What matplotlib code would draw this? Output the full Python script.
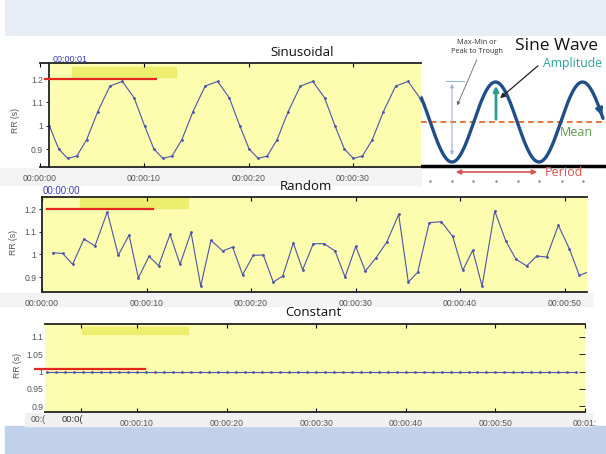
import numpy as np
import matplotlib.pyplot as plt
from matplotlib.patches import Rectangle

plt.rcParams['font.family'] = ['Liberation Sans', 'DejaVu Sans']

# --- data ---
# sinusoidal RR tachogram (time in s, RR in s)
sin_t = [0.94, 1.84, 2.70, 3.57, 4.51, 5.57, 6.74, 7.93, 9.05,
         10.05, 10.95, 11.81, 12.68, 13.62, 14.68, 15.85, 17.04, 18.16,
         19.16, 20.06, 20.92, 21.79, 22.73, 23.79, 24.96, 26.15, 27.27,
         28.27, 29.17, 30.03, 30.90, 31.84, 32.90, 34.07, 35.26, 36.38, 37.38]
sin_rr = [1.00, 0.90, 0.86, 0.87, 0.94, 1.06, 1.17, 1.19, 1.12,
          1.00, 0.90, 0.86, 0.87, 0.94, 1.06, 1.17, 1.19, 1.12,
          1.00, 0.90, 0.86, 0.87, 0.94, 1.06, 1.17, 1.19, 1.12,
          1.00, 0.90, 0.86, 0.87, 0.94, 1.06, 1.17, 1.19, 1.12, 1.00]

# random RR tachogram
rnd_t = [1.02, 1.98, 2.93, 4.02, 5.07, 6.25, 7.30, 8.33, 9.22, 10.24,
         11.16, 12.25, 13.21, 14.26, 15.19, 16.17, 17.29, 18.24, 19.20, 20.22,
         21.18, 22.13, 23.03, 24.05, 24.94, 25.96, 26.99, 28.04, 29.00, 30.02,
         30.94, 31.96, 32.98, 34.13, 35.05, 35.95, 37.06, 38.21, 39.30, 40.26,
         41.21, 42.11, 43.32, 44.40, 45.36, 46.38, 47.34, 48.29, 49.41, 50.46,
         51.42, 52.40]
rnd_rr = [1.007, 1.004, 0.956, 1.068, 1.037, 1.187, 0.996, 1.085, 0.896, 0.991,
          0.950, 1.088, 0.956, 1.097, 0.860, 1.062, 1.015, 1.032, 0.910, 0.996,
          0.997, 0.878, 0.904, 1.050, 0.932, 1.047, 1.047, 1.015, 0.900, 1.035,
          0.926, 0.985, 1.053, 1.176, 0.878, 0.921, 1.140, 1.144, 1.079, 0.929,
          1.018, 0.860, 1.191, 1.057, 0.978, 0.949, 0.993, 0.988, 1.128, 1.025,
          0.907, 0.925]

# constant RR tachogram
const_t = [0, 1, 2, 3, 4, 5, 6, 7, 8, 9, 10, 11, 12, 13, 14, 15, 16, 17, 18, 19,
           20, 21, 22, 23, 24, 25, 26, 27, 28, 29, 30, 31, 32, 33, 34, 35, 36, 37,
           38, 39, 40, 41, 42, 43, 44, 45, 46, 47, 48, 49, 50, 51, 52, 53, 54, 55,
           56, 57, 58, 59]
const_rr = [1.0] * len(const_t)

xt_main = [0, 10, 20, 30, 40, 50]
xl_main = ['00:00:00', '00:00:10', '00:00:20', '00:00:30', '00:00:40', '00:00:50']

W, H = 606, 454
fig = plt.figure(figsize=(6.06, 4.54), dpi=100)

YELLOW = '#fdfdb0'
HILITE = '#eded6e'
RED = '#e0281e'
LINE = '#4b55a8'
TXT = '#555555'


def box(x0, y0, x1, y1):
    return [x0 / W, 1 - y1 / H, (x1 - x0) / W, (y1 - y0) / H]


def band(x0, y0, x1, y1, color):
    fig.patches.append(Rectangle((x0 / W, 1 - y1 / H), (x1 - x0) / W, (y1 - y0) / H,
                                 transform=fig.transFigure, color=color, zorder=-1))


def ftext(x, y, s, **kw):
    fig.text(x / W, 1 - y / H, s, **kw)


# background bands
band(5, 0, 606, 35, '#e9edf6')
band(5, 426, 606, 454, '#c2d1ea')
band(0, 168, 421, 185, '#f3f3f3')
band(0, 293, 592, 306, '#f3f3f3')
band(25, 413, 592, 426, '#f0f0f0')


def style(ax):
    ax.set_facecolor(YELLOW)
    for s in ['top', 'bottom', 'left']:
        ax.spines[s].set_color('#222222')
        ax.spines[s].set_linewidth(1.3)
    ax.spines['right'].set_visible(False)
    ax.tick_params(axis='x', direction='in', top=True, length=3, width=0.8,
                   labelsize=6.2, labelcolor=TXT, pad=5)
    ax.tick_params(axis='y', direction='out', length=2, width=0.6,
                   labelsize=6.2, labelcolor=TXT, pad=2)


# ---------- Sinusoidal ----------
ax1 = fig.add_axes(box(39.5, 63, 421, 167))
style(ax1)
ax1.set_xlim(0, 36.5)
ax1.set_ylim(0.823, 1.269)
ax1.axvspan(0, 0.87, color='white', zorder=0)
ax1.spines['left'].set_position(('data', 0.87))
ax1.set_xticks(xt_main[:4], xl_main[:4])
ax1.set_yticks([0.9, 1.0, 1.1, 1.2], ['0.9', '1', '1.1', '1.2'])
ax1.add_patch(Rectangle((3.11, 1.2086), 9.95, 0.043, color=HILITE, zorder=1))
ax1.plot([0.53, 11.15], [1.2, 1.2], color=RED, lw=1.6, zorder=3, clip_on=False)
ax1.plot(sin_t, sin_rr, color=LINE, lw=0.8, marker='.', ms=2, zorder=2)

# ---------- Random ----------
ax2 = fig.add_axes(box(42, 197, 587, 292))
style(ax2)
ax2.set_xlim(0, 52.15)
ax2.set_ylim(0.834, 1.253)
ax2.set_xticks(xt_main, xl_main)
ax2.set_yticks([0.9, 1.0, 1.1, 1.2], ['0.9', '1', '1.1', '1.2'])
ax2.add_patch(Rectangle((3.64, 1.204), 10.33, 0.049, color=HILITE, zorder=1))
ax2.plot([0.48, 10.6], [1.2, 1.2], color=RED, lw=1.6, zorder=3, clip_on=False)
ax2.plot(rnd_t, rnd_rr, color=LINE, lw=0.8, marker='.', ms=2, zorder=2)

# ---------- Constant ----------
ax3 = fig.add_axes(box(45, 324, 585, 412))
style(ax3)
ax3.spines['left'].set_visible(False)
ax3.set_xlim(-0.27, 60.0)
ax3.set_ylim(0.883, 1.1376)
ax3.set_xticks([3.75] + xt_main[1:] + [60],
               [''] + xl_main[1:] + ['00:01:'])
ax3.set_yticks([0.9, 0.95, 1.0, 1.05, 1.1], ['0.9', '0.95', '1', '1.05', '1.1'])
ax3.tick_params(axis='y', left=False, right=True, direction='in', length=4, pad=1)
ax3.add_patch(Rectangle((3.86, 1.1087), 11.84, 0.0203, color=HILITE, zorder=1))
ax3.plot([-1.38, 10.9], [1.0087, 1.0087], color=RED, lw=1.6, zorder=3, clip_on=False)
ax3.plot(const_t, const_rr, color=LINE, lw=0.8, marker='.', ms=2, zorder=2)
ftext(38, 420, '00:(', fontsize=6.2, color=TXT, ha='center', va='center')
ftext(72, 420, '00:0(', fontsize=6.8, color='#333333', ha='center', va='center')

# titles, labels
for x, y, s in [(302, 52, 'Sinusoidal'), (306, 187, 'Random'), (313, 313, 'Constant')]:
    ftext(x, y, s, fontsize=9.5, family=['Open Sans', 'DejaVu Sans'],
          ha='center', va='center', color='#111111')
for x, y in [(15, 120), (13, 242), (17, 365)]:
    ftext(x, y, 'RR (s)', fontsize=6.2, color=TXT, rotation=90, ha='center', va='center')
ftext(53, 59, '00:00:01', fontsize=6.5, color='#3b3bb0', va='center')
ftext(43, 191, '00:00:00', fontsize=7, color='#3b3bb0', va='center')

# ---------- sine wave diagram ----------
axs = fig.add_axes(box(421, 35, 606, 188))
axs.set_xlim(421, 606)
axs.set_ylim(188, 35)
axs.axis('off')
axs.patch.set_visible(True)
axs.set_facecolor('white')

period, amp, mean, trough = 87, 40, 122, 452
xs = np.linspace(421, 603, 300)
ys = mean + amp * np.cos(2 * np.pi * (xs - trough) / period)
axs.plot([421, 606], [mean, mean], color='#e8773a', lw=1.4, ls=(0, (3, 2)))
axs.plot(xs, ys, color='#1f4e89', lw=2.4, solid_capstyle='round')
axs.annotate('', xy=(xs[-1], ys[-1]), xytext=(xs[-8], ys[-8]),
             arrowprops=dict(arrowstyle='-|>', color='#1f4e89', lw=2, mutation_scale=10))
axs.plot([421, 606], [166, 166], color='black', lw=2.5)
axs.annotate('', xy=(453, 172), xytext=(540, 172),
             arrowprops=dict(arrowstyle='<|-|>', color='#d9534f', lw=1.2, mutation_scale=7))
axs.text(545, 172, 'Period', color='#d9534f', fontsize=9,
         family=['Open Sans', 'DejaVu Sans'], va='center')
axs.plot([430, 452, 473, 496, 518, 539, 562, 583], [181] * 8, ls='none',
         marker='.', ms=1.5, color='#888888')
axs.annotate('', xy=(496, 83), xytext=(496, 122),
             arrowprops=dict(arrowstyle='-|>', color='#2a9d8f', lw=2, mutation_scale=7))
axs.annotate('', xy=(498, 100), xytext=(540, 64),
             arrowprops=dict(arrowstyle='-|>', color='#222222', lw=0.9, mutation_scale=7))
axs.text(543, 63, 'Amplitude', color='#2aa39b', fontsize=8.8,
         family=['Open Sans', 'DejaVu Sans'], va='center')
axs.text(560, 132, 'Mean', color='#5d9c4b', fontsize=9,
         family=['Open Sans', 'DejaVu Sans'], va='center')
axs.text(515, 46, 'Sine Wave', color='#111111', fontsize=12.5,
         family=['Open Sans', 'DejaVu Sans'], va='center')
axs.text(477, 47, 'Max-Min or\nPeak to Trough', color='#333333', fontsize=5.3,
         family=['Open Sans', 'DejaVu Sans'], ha='center', va='center', linespacing=1.4)
axs.annotate('', xy=(452, 81), xytext=(452, 158),
             arrowprops=dict(arrowstyle='<|-|>', color='#9fb3d9', lw=0.8, mutation_scale=5))
axs.plot([446, 464], [81, 81], color='#9fb3d9', lw=0.8)
axs.annotate('', xy=(456, 108), xytext=(478, 57),
             arrowprops=dict(arrowstyle='-|>', color='#666666', lw=0.6, mutation_scale=5))

fig.savefig('out.png', dpi=100)
